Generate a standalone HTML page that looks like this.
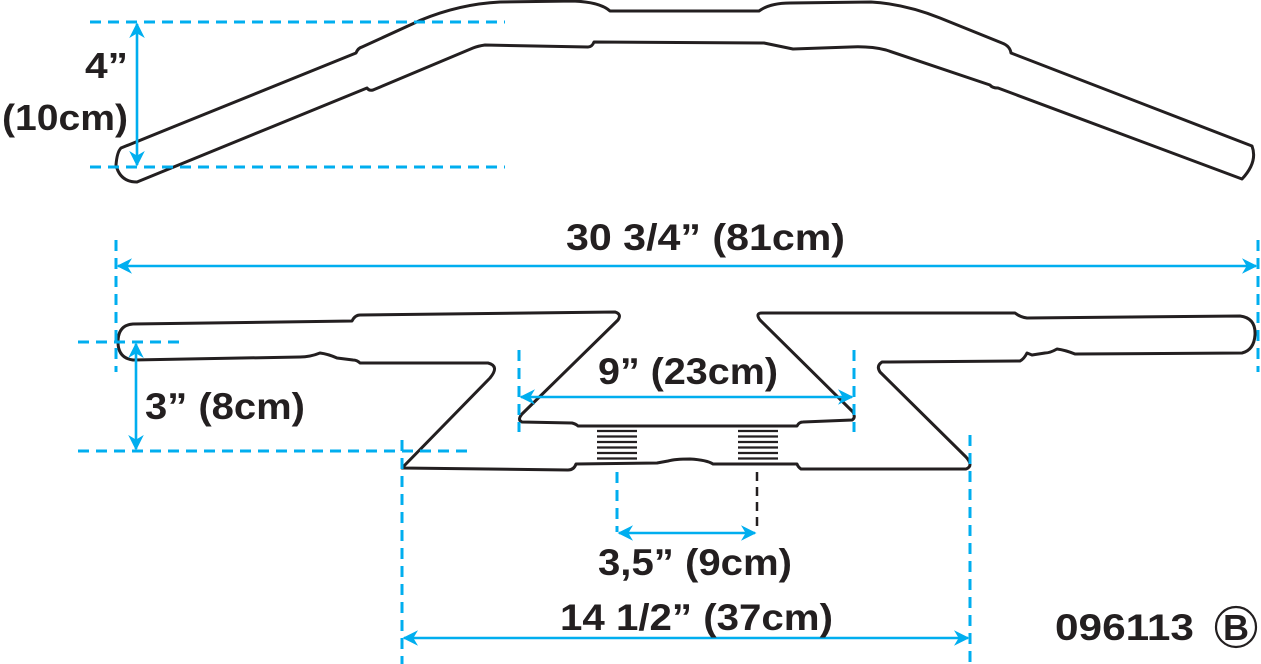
<!DOCTYPE html>
<html><head><meta charset="utf-8"><style>
html,body{margin:0;padding:0;background:#fff;}
svg{display:block;}
text{font-family:"Liberation Sans",sans-serif;font-weight:bold;fill:#231f20;}
</style></head><body>
<svg width="1261" height="664" viewBox="0 0 1261 664" xmlns="http://www.w3.org/2000/svg">
<defs>
<marker id="a" viewBox="0 0 10 10" refX="9" refY="5" markerWidth="6" markerHeight="6" orient="auto-start-reverse" markerUnits="strokeWidth">
<path d="M0,0 L10,5 L0,10 L3,5 z" fill="#00aeef"/></marker>
</defs>
<g fill="none" stroke="#231f20" stroke-width="3" stroke-linejoin="round">
<path d="M121,148 L356,53 Q358,48 362,47 L421,20 Q460,4 500,2 L573,1 Q600,2 610,11 L759,11 Q770,3 790,3 L871,2 Q905,4 940,18 L1002,43 Q1010,46 1011,53 L1252,146 Q1258,162 1242,179 L998,88 Q992,88 990,85 L886,50 Q870,46 850,47 L793,49 L764,43 L594,42 Q592,47 588,47 L485,45 Q478,46 473,48 L373,90 Q369,91 367,88 L137,182 Q120,182 116,165 Q117,152 121,148 Z"/>
<path d="M133,324 L352,321 Q355,315 360,315 L615,312 Q622,314 618,320 L522,414 Q517,420 522,422 L572,423 Q576,424 578,426 L797,426 Q799,422 803,422 L852,420 Q856,418 853,412 L760,320 Q755,313 762,313 L1015,313 Q1020,317 1027,318 L1240,316 Q1256,318 1255,335 Q1254,350 1242,353 L1075,354 Q1065,350 1057,349 Q1050,353 1045,353 L1032,355 L1027,353 Q1024,359 1020,361 L882,362 Q876,366 880,372 L966,457 Q974,466 966,469 L801,469 Q798,467 797,464 L713,464 Q707,460 690,459 Q675,459 668,461 L657,463 L576,464 Q574,470 568,470 L402,468 L490,378 Q500,366 488,363 L360,363 Q357,360 353,360 L337,358 Q328,354 320,353 Q310,357 300,357 L133,360 Q118,358 118,342 Q118,325 133,324 Z"/>
</g>
<g stroke="#231f20" stroke-width="2.2">
<path d="M597,431H637M597,436.5H637M597,442H637M597,447.5H637M597,453H637M597,458.5H637"/>
<path d="M738,431H778M738,436.5H778M738,442H778M738,447.5H778M738,453H778M738,458.5H778"/>
</g>
<g fill="none" stroke="#00aeef" stroke-width="3" stroke-dasharray="11,7">
<path d="M90,22H505M90,167H505"/>
<path d="M116,240V372M1258,240V372"/>
<path d="M78,342H185M78,451H470"/>
<path d="M519,350V432M854,350V432"/>
<path d="M617,472V532"/>
<path d="M402,440V664M970,435V664"/>
</g>
<path d="M757,472V532" stroke="#231f20" stroke-width="2.5" stroke-dasharray="9,6"/>
<g stroke="#00aeef" stroke-width="2.6" fill="none" marker-start="url(#a)" marker-end="url(#a)">
<path d="M137,24V165"/>
<path d="M118,266H1256"/>
<path d="M136,344V449"/>
<path d="M521,397H852"/>
<path d="M619,533H755"/>
<path d="M404,638H968"/>
</g>
<text x="85" y="78" font-size="36" textLength="43" lengthAdjust="spacingAndGlyphs">4”</text>
<text x="2" y="130" font-size="36" textLength="126" lengthAdjust="spacingAndGlyphs">(10cm)</text>
<text x="566" y="250" font-size="37" textLength="279" lengthAdjust="spacingAndGlyphs">30 3/4” (81cm)</text>
<text x="598" y="384" font-size="37" textLength="180" lengthAdjust="spacingAndGlyphs">9” (23cm)</text>
<text x="145" y="419" font-size="37" textLength="160" lengthAdjust="spacingAndGlyphs">3” (8cm)</text>
<text x="598" y="575" font-size="37" textLength="194" lengthAdjust="spacingAndGlyphs">3,5” (9cm)</text>
<text x="560" y="630" font-size="37" textLength="273" lengthAdjust="spacingAndGlyphs">14 1/2” (37cm)</text>
<text x="1055" y="640" font-size="37" textLength="139" lengthAdjust="spacingAndGlyphs">096113</text>
<circle cx="1236" cy="627" r="20" fill="none" stroke="#231f20" stroke-width="2.2"/>
<text x="1236" y="640" font-size="36" text-anchor="middle">B</text>
</svg>
</body></html>
